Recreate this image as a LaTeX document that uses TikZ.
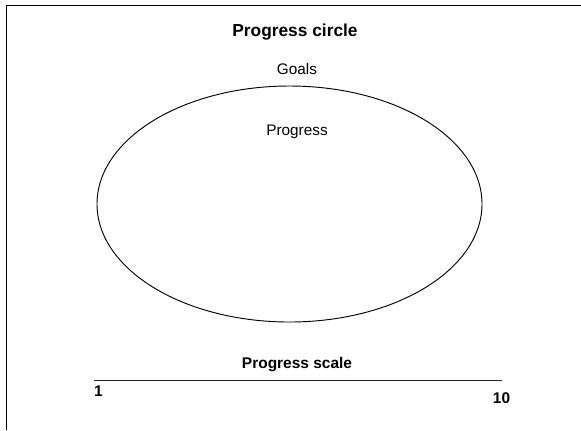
\documentclass[tikz,border=0pt]{standalone}
\usepackage{fontspec}
\setmainfont{Liberation Sans}
\tikzset{
  frame/.style={line width=1.1pt, draw=black},
  ring/.style={line width=0.7pt, draw=black},
  scaleline/.style={line width=0.8pt, draw=black!85},
  heading/.style={font=\fontsize{13}{15}\selectfont\bfseries, inner sep=0pt},
  tag/.style={font=\fontsize{11.5}{13}\selectfont, inner sep=0pt},
  scaletag/.style={font=\fontsize{11.6}{13}\selectfont\bfseries, inner sep=0pt},
}

\begin{document}
\begin{tikzpicture}[x=0.75pt, y=-0.75pt]
\useasboundingbox (0,0) rectangle (581,430);
\draw[frame] (6.3,430) -- (6.3,5.3) -- (581,5.3);
\node[heading] (title) at (295,32) {Progress circle};
\node[tag] (goals) at (297,69) {Goals};
\draw[ring] (289.5,204) ellipse (192.5 and 118);
\node[tag] (progress) at (297,132) {Progress};
\node[scaletag] (scaletitle) at (297,365) {Progress scale};
\coordinate (scalelo) at (94,380.5);
\coordinate (scalehi) at (502,380.5);
\draw[scaleline] (scalelo) -- (scalehi);
\node[scaletag] (low) at (98.5,391.5) {1};
\node[scaletag] (high) at (501.5,398) {10};
\end{tikzpicture}
\end{document}
